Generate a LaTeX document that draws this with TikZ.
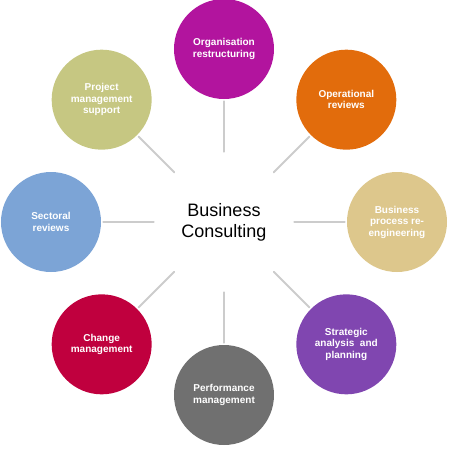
\documentclass[tikz,border=0pt]{standalone}
\usepackage{fontspec}
\setmainfont{Liberation Sans}
\usepackage{tikz}
\usetikzlibrary{positioning}

\definecolor{orgpurple}{RGB}{178,20,158}
\definecolor{opsorange}{RGB}{226,108,12}
\definecolor{bprtan}{RGB}{221,199,140}
\definecolor{stratviolet}{RGB}{128,70,176}
\definecolor{perfgray}{RGB}{112,112,112}
\definecolor{changered}{RGB}{192,0,62}
\definecolor{sectblue}{RGB}{124,164,214}
\definecolor{projolive}{RGB}{198,199,130}
\definecolor{linkgray}{RGB}{204,204,204}

\begin{document}
\begin{tikzpicture}[
  x=1pt, y=1pt,
  line cap=round,
  hub/.style={
    circle,
    minimum size=140pt,
    inner sep=0pt,
    align=center,
    font=\fontsize{18}{21}\selectfont
  },
  topic/.style={
    circle,
    minimum size=100pt,
    inner sep=0pt,
    align=center,
    text=white,
    font=\fontsize{10}{11.5}\selectfont\bfseries
  },
  link/.style={
    line width=1.8pt,
    draw=linkgray,
    shorten >=2pt
  }
]
\useasboundingbox (-224,-226) rectangle (226,222);

% Centre
\node[hub] (hub) at (0,0) {Business\\Consulting};

% Ring of topics
\node[topic, fill=orgpurple]   (org)    at (90:173)   {Organisation\\restructuring};
\node[topic, fill=opsorange]   (ops)    at (45:173)   {Operational\\reviews};
\node[topic, fill=bprtan]      (bpr)    at (0:173)    {Business\\process re-\\engineering};
\node[topic, fill=stratviolet] (strat)  at (-45:173)  {Strategic\\analysis\ \ and\\planning};
\node[topic, fill=perfgray]    (perf)   at (-90:173)  {Performance\\management};
\node[topic, fill=changered]   (change) at (-135:173) {Change\\management};
\node[topic, fill=sectblue]    (sect)   at (180:173)  {Sectoral\\reviews};
\node[topic, fill=projolive]   (proj)   at (135:173)  {Project\\management\\support};

% Spokes
\draw[link] (hub.90)   -- (org.-90);
\draw[link] (hub.45)   -- (ops.-135);
\draw[link] (hub.0)    -- (bpr.180);
\draw[link] (hub.-45)  -- (strat.135);
\draw[link] (hub.-90)  -- (perf.90);
\draw[link] (hub.-135) -- (change.45);
\draw[link] (hub.180)  -- (sect.0);
\draw[link] (hub.135)  -- (proj.-45);

\end{tikzpicture}
\end{document}
